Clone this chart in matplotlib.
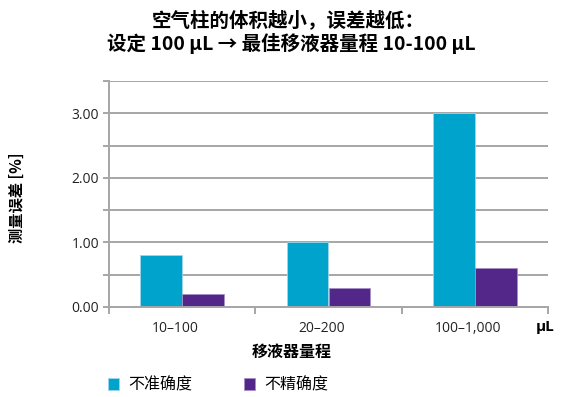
import matplotlib
matplotlib.use("Agg")
import matplotlib.pyplot as plt
from matplotlib.ticker import FixedLocator, NullFormatter
from matplotlib.transforms import ScaledTranslation

plt.rcParams["font.family"] = ["Open Sans", "Noto Sans CJK SC", "DejaVu Sans"]

# ----------------------------------------------------------------------
# Dados
# ----------------------------------------------------------------------
categorias = ["10–100", "20–200", "100–1,000"]
inexatidao = [0.8, 1.0, 3.0]     # 不准确度
imprecisao = [0.2, 0.3, 0.6]     # 不精确度
series = ["不准确度", "不精确度"]
cores = ["#00A3CB", "#522789"]

CJK = ["Noto Sans CJK SC", "DejaVu Sans"]
CINZA = "#A6A6A6"

fig = plt.figure(figsize=(5.68, 3.97), dpi=100)
ax = fig.add_axes([109 / 568, 1 - 307 / 397, 439 / 568, 226 / 397])

x = list(range(len(categorias)))
w = 0.285
ax.bar([i - w / 2 for i in x], inexatidao, w, color=cores[0],
       edgecolor="#9ED6E8", lw=0.6, label=series[0], zorder=3)
ax.bar([i + w / 2 for i in x], imprecisao, w, color=cores[1],
       edgecolor="#A58FC6", lw=0.6, label=series[1], zorder=3)

ax.set_xlim(-0.5, len(categorias) - 0.5)
ax.set_ylim(0, 3.5)

# eixo y: rótulos nos inteiros, linhas de grade a cada 0.5
ax.set_yticks([0, 1, 2, 3])
ax.set_yticklabels([f"{v:.2f}" for v in [0, 1, 2, 3]], fontsize=10, color="#222222")
ax.yaxis.set_minor_locator(FixedLocator([0.5, 1.5, 2.5, 3.5]))
ax.grid(axis="y", which="both", color=CINZA, lw=1.4, zorder=1)
ax.tick_params(axis="y", which="both", direction="out", length=4, width=1.4,
               color=CINZA, pad=3)

# eixo x: traços separando categorias, rótulos no centro
ax.set_xticks([-0.5, 0.5, 1.5, 2.5])
ax.xaxis.set_major_formatter(NullFormatter())
ax.set_xticks(x, minor=True)
ax.set_xticklabels(categorias, minor=True, fontsize=10, color="#222222")
ax.tick_params(axis="x", which="major", direction="out", length=5, width=1.4, color=CINZA)
ax.tick_params(axis="x", which="minor", length=0, pad=10)
desloc = ScaledTranslation(-0.07, 0, fig.dpi_scale_trans)
for rot in ax.xaxis.get_minorticklabels():
    rot.set_transform(rot.get_transform() + desloc)

for lado in ["top", "right"]:
    ax.spines[lado].set_visible(False)
for lado in ["left", "bottom"]:
    ax.spines[lado].set_color(CINZA)
    ax.spines[lado].set_linewidth(1.4)
    ax.spines[lado].set_zorder(4)

fig.text(545 / 568, 1 - 327 / 397, "µL", fontsize=11, fontweight="bold",
         ha="center", va="center")

fig.text(292 / 568, 1 - 352 / 397, "移液器量程", family=CJK, fontsize=11.5,
         fontweight="bold", ha="center", va="center")
fig.text(17 / 568, 1 - 198 / 397, "测量误差 [%]", family=CJK, fontsize=11,
         fontweight="bold", rotation=90, ha="center", va="center")

fig.text(288 / 568, 1 - 20 / 397, "空气柱的体积越小，误差越低：", family=CJK,
         fontsize=14, fontweight="bold", ha="center", va="center")
fig.text(291 / 568, 1 - 43 / 397, "设定 100 µL → 最佳移液器量程 10-100 µL",
         family=CJK, fontsize=14, fontweight="bold", ha="center", va="center")

leg = fig.legend(loc="center left", bbox_to_anchor=(108 / 568, 1 - 385 / 397),
                 ncol=2, frameon=False, handlelength=0.7, handleheight=0.7,
                 handletextpad=0.6, columnspacing=3.2, borderpad=0,
                 borderaxespad=0, prop={"family": CJK, "size": 11.5})

fig.savefig("out.png", dpi=100)
